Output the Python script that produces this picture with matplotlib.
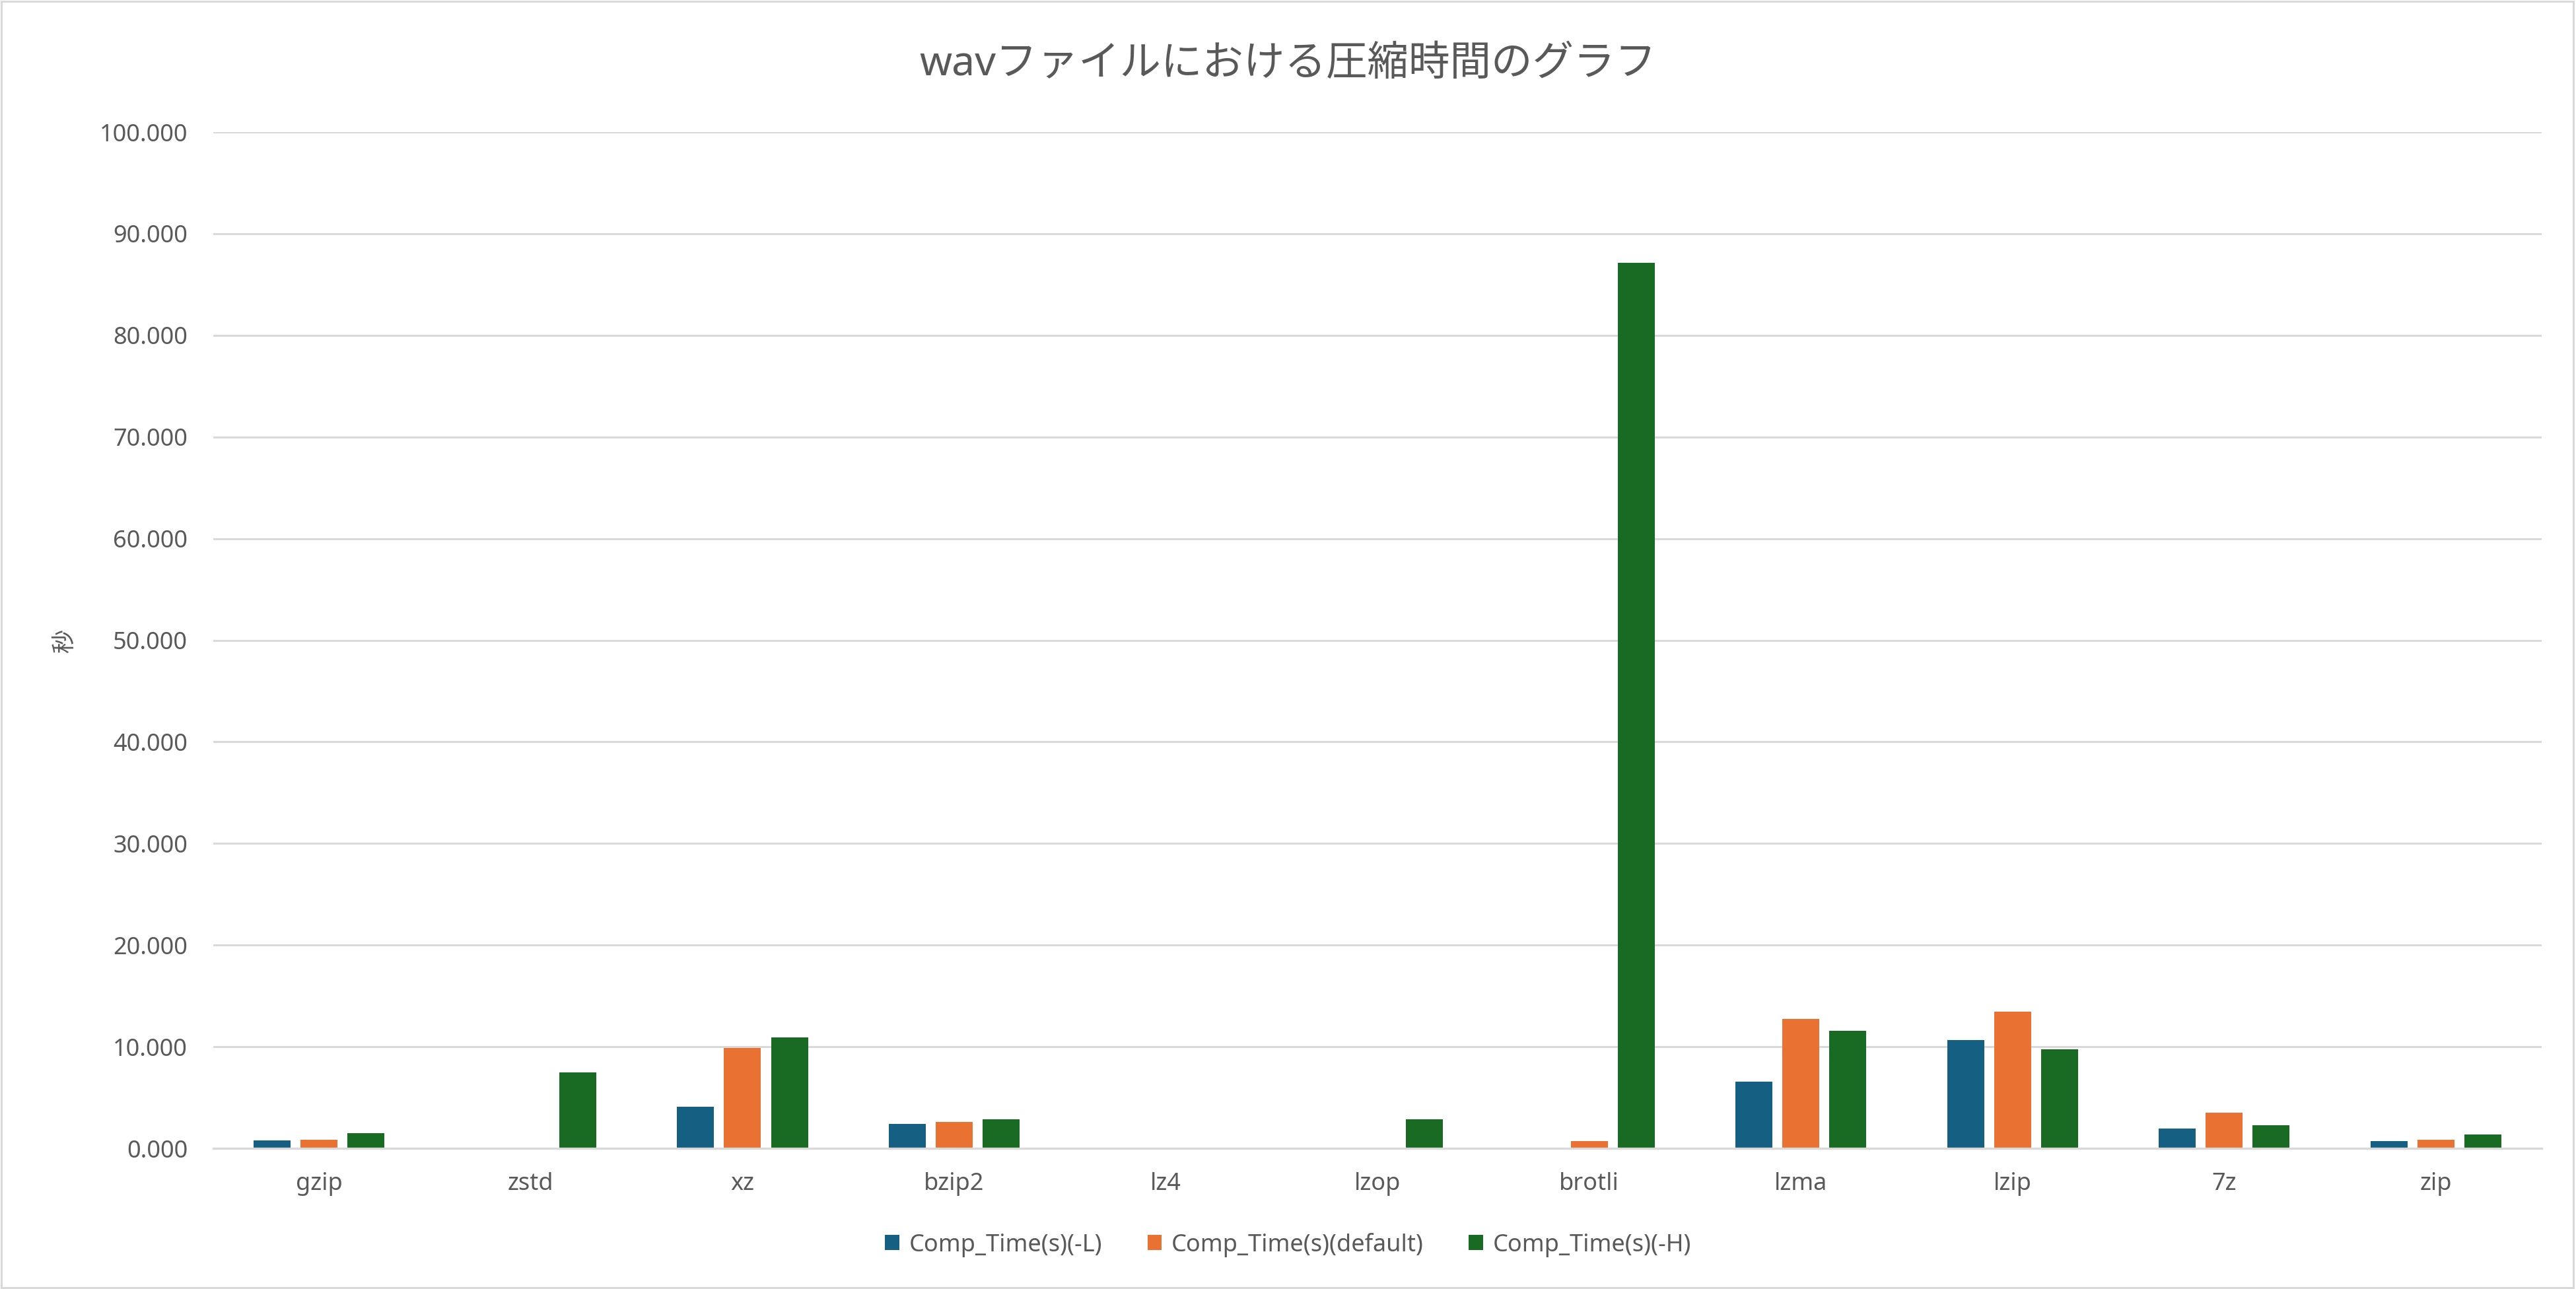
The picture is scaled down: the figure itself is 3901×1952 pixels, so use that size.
import numpy as np
import matplotlib
matplotlib.use('Agg')
import matplotlib.pyplot as plt
from matplotlib.patches import Rectangle

plt.rcParams['font.family'] = ['Noto Sans', 'Noto Sans CJK JP', 'DejaVu Sans']

# data (seconds)
tools = ['gzip', 'zstd', 'xz', 'bzip2', 'lz4', 'lzop', 'brotli', 'lzma', 'lzip', '7z', 'zip']
time_low = [0.76, 0.05, 4.07, 2.43, 0.05, 0.05, 0.05, 6.54, 10.63, 1.98, 0.74]
time_default = [0.85, 0.05, 9.87, 2.57, 0.05, 0.05, 0.74, 12.74, 13.46, 3.48, 0.87]
time_high = [1.50, 7.46, 10.91, 2.89, 0.05, 2.89, 87.17, 11.57, 9.72, 2.30, 1.39]
series_names = ['Comp_Time(s)(-L)', 'Comp_Time(s)(default)', 'Comp_Time(s)(-H)']
colors = ['#156082', '#E97132', '#196B24']

text_col = '#595959'
grid_col = '#D9D9D9'

fig = plt.figure(figsize=(39.01, 19.52), dpi=100)
ax = fig.add_axes([0.0828, 0.1091, 0.9039, 0.7884])

x = np.arange(len(tools))
w = 0.175
step = 0.222
for i, vals in enumerate([time_low, time_default, time_high]):
    ax.bar(x + (i - 1) * step, vals, width=w, color=colors[i], label=series_names[i])

ax.set_xlim(-0.5, len(tools) - 0.5)
ax.set_ylim(0, 100)
ax.set_yticks(np.arange(0, 101, 10))
ax.set_yticklabels([f'{v:.3f}' for v in np.arange(0, 101, 10)])
ax.set_xticks(x)
ax.set_xticklabels(tools)

ax.set_axisbelow(True)
ax.yaxis.grid(True, color=grid_col, linewidth=2.2)
for s in ['top', 'right', 'left']:
    ax.spines[s].set_visible(False)
ax.spines['bottom'].set_color(grid_col)
ax.spines['bottom'].set_linewidth(2.4)
ax.tick_params(axis='both', length=0, labelsize=26, labelcolor=text_col)
ax.tick_params(axis='y', pad=28)
ax.tick_params(axis='x', pad=26)

ax.set_ylabel('秒', fontsize=26, color=text_col)
ax.yaxis.set_label_coords(-0.0584, 0.5)

fig.text(0.5, 0.950, 'wavファイルにおける圧縮時間のグラフ', fontsize=45,
         color=text_col, ha='center', va='center')

fig.legend(loc='center', bbox_to_anchor=(0.5, 0.0343), ncol=3, frameon=False,
           fontsize=26, labelcolor=text_col, handlelength=0.6, handleheight=0.6,
           handletextpad=0.4, columnspacing=1.9)

# chart border
fig.patches.append(Rectangle((0.0005, 0.0008), 0.9985, 0.9984, transform=fig.transFigure,
                             fill=False, edgecolor=grid_col, linewidth=2.2))

fig.savefig('out.png', dpi=100, facecolor='white')
